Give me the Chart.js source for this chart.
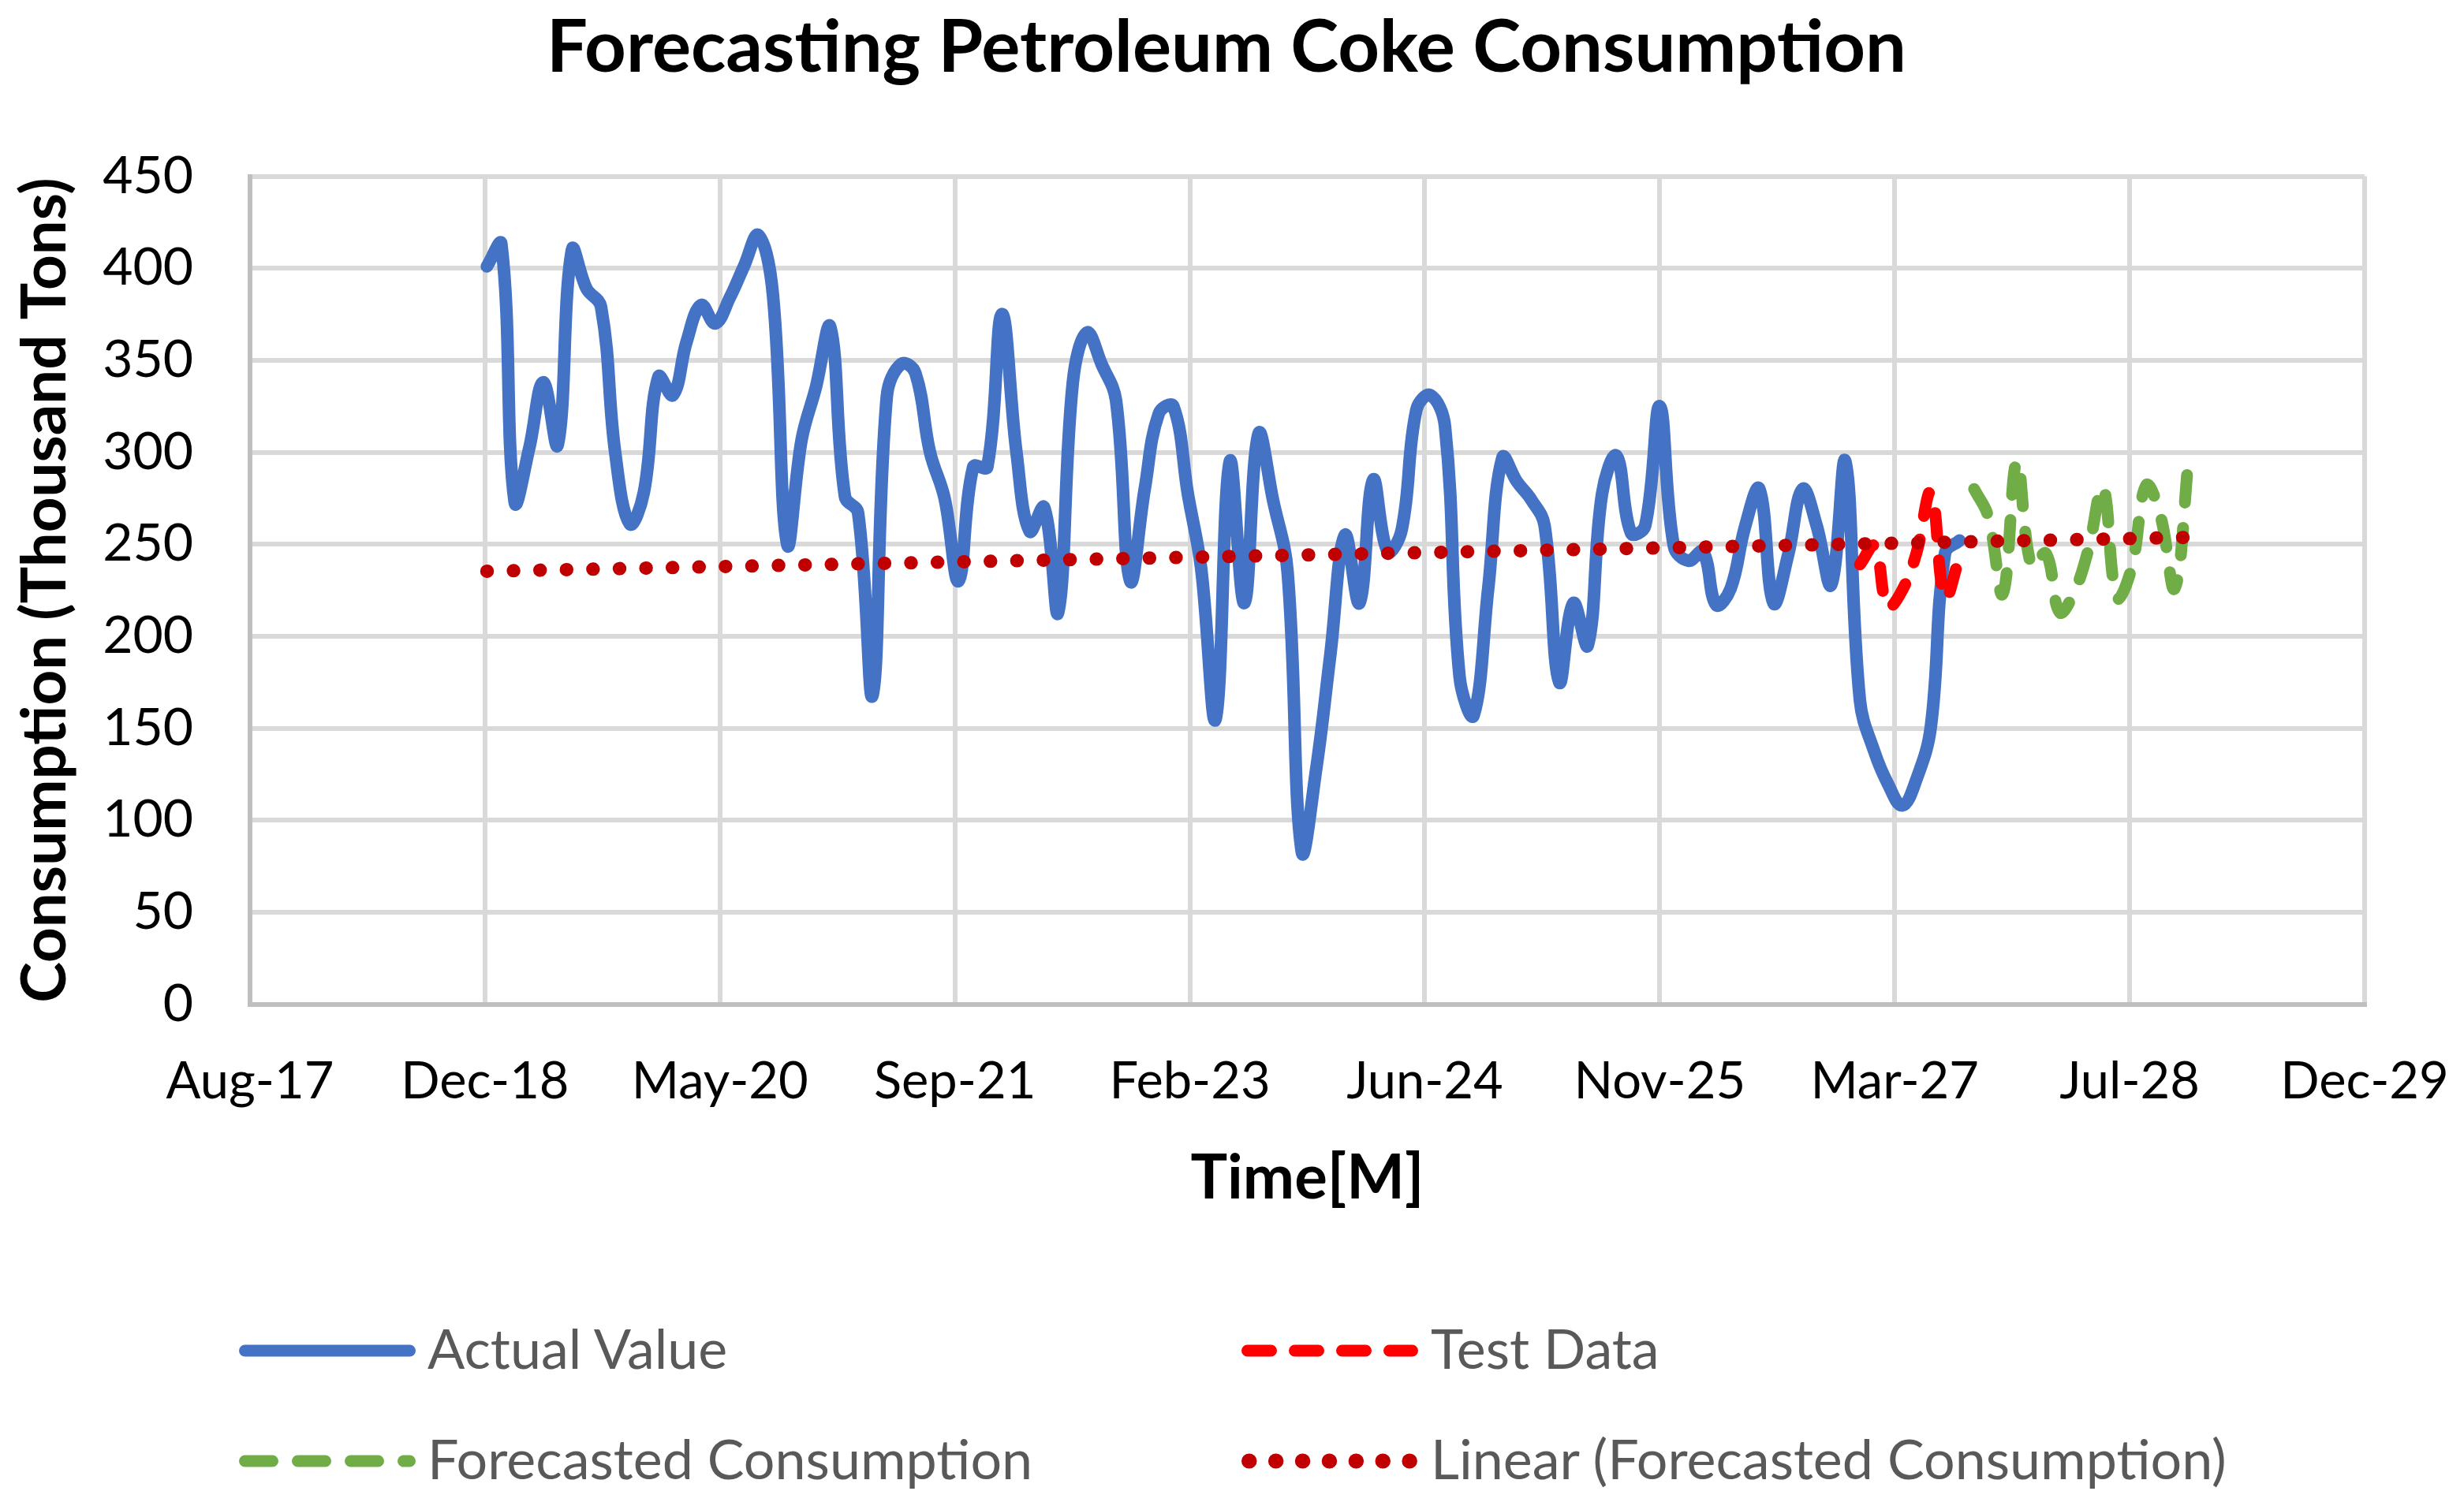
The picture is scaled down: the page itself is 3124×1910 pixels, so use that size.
<!DOCTYPE html>
<html>
<head>
<meta charset="utf-8">
<script src="https://cdn.jsdelivr.net/npm/chart.js@4.4.1/dist/chart.umd.min.js"></script>
<style>
html,body{margin:0;padding:0;background:#ffffff;overflow:hidden;}
#wrap{position:absolute;left:0;top:0;width:3124px;height:1600px;}
#legend{position:absolute;left:0;top:0;width:3124px;height:1910px;font-family:Lato,sans-serif;font-size:70px;color:#595959;}
.lg-svg{position:absolute;}
.lg-text{position:absolute;white-space:nowrap;line-height:1.2;}
</style>
</head>
<body>
<div id="wrap"><canvas id="chart"></canvas></div>
<div id="legend"></div>
<script>
// ---- data ----
const xTickLabels = ['Aug-17','Dec-18','May-20','Sep-21','Feb-23','Jun-24','Nov-25','Mar-27','Jul-28','Dec-29'];

const actualStart = [2019, 1];   // Jan 2019, monthly
const actualValues = [401,413,273,302,338,304,410,389,379,300,
                      261,278,341,331,360,380,370,384,401,418,
                      385,250,307,335,368,276,267,168,330,348,
                      343,300,275,230,292,292,375,300,257,270,
                      213,338,365,348,328,230,280,321,325,277,
                      237,155,295,218,310,274,235,83,128,190,
                      255,218,285,246,258,323,331,314,178,157,
                      226,297,284,274,260,175,218,195,277,298,
                      256,260,325,249,241,246,217,226,259,280,
                      218,244,280,260,228,295,165,137,120,108,
                      122,151,245,252];

const testStart = [2027, 1];     // Jan 2027
const testValues = [239,249,216,225,245,278,221,243];

const forecastStart = [2027, 9]; // Sep 2027
const forecastValues = [280,265,223,295,238,245,213,224,247,281,221,237,282,266,226,298];

const trendMonths = [[2019, 1], [2028, 12]];
const trendValues = [235.3, 253.7];

// ---- helpers ----
const AXIS_ORIGIN = Date.UTC(2017, 7, 15);
function dayOf(y, m) { return (Date.UTC(y, m - 1, 1) - AXIS_ORIGIN) / 86400000; }
function monthly(start, values) {
  return values.map((v, i) => {
    const t = start[0] * 12 + (start[1] - 1) + i;
    return { x: dayOf(Math.floor(t / 12), (t % 12) + 1), y: v };
  });
}

const series = [
  { label: 'Linear (Forecasted Consumption)', data: trendMonths.map((m, i) => ({ x: dayOf(m[0], m[1]), y: trendValues[i] })),
    color: '#C00000', width: 17, dash: [0.5, 33.1], tension: 0, order: 1 },
  { label: 'Test Data', data: monthly(testStart, testValues),
    color: '#FF0000', width: 15, dash: [30, 30], tension: 0.4, order: 2 },
  { label: 'Forecasted Consumption', data: monthly(forecastStart, forecastValues),
    color: '#70AD47', width: 15, dash: [35, 32], tension: 0.4, order: 3 },
  { label: 'Actual Value', data: monthly(actualStart, actualValues),
    color: '#4472C4', width: 16, dash: [], tension: 0.4, order: 4 }
];

function build() {
  const ctx = document.getElementById('chart').getContext('2d');
  new Chart(ctx, {
    type: 'line',
    data: {
      datasets: series.map(s => ({
        label: s.label, data: s.data, borderColor: s.color, backgroundColor: s.color,
        borderWidth: s.width, borderDash: s.dash, borderCapStyle: 'round', borderJoinStyle: 'round',
        tension: s.tension, pointRadius: 0, pointHoverRadius: 0, fill: false, order: s.order
      }))
    },
    options: {
      responsive: true, maintainAspectRatio: false, animation: false, devicePixelRatio: 1,
      layout: { padding: { left: 0, right: 14, top: 0, bottom: 0 } },
      plugins: {
        legend: { display: false },
        tooltip: { enabled: false },
        title: {
          display: true, text: 'Forecasting Petroleum Coke Consumption', color: '#000000',
          font: { family: 'Lato', size: 92, weight: 'bold', lineHeight: 1.2 },
          padding: { top: 6, bottom: 107.1 }
        }
      },
      scales: {
        x: {
          type: 'linear', min: 0, max: 4500,
          ticks: { stepSize: 500, autoSkip: false, maxRotation: 0, padding: 60, color: '#000000',
                   font: { family: 'Lato', size: 65 }, callback: (v, i) => xTickLabels[i] },
          grid: { color: '#D9D9D9', lineWidth: 6, drawTicks: false },
          border: { color: '#BFBFBF', width: 6 },
          title: { display: true, text: 'Time[M]', color: '#000000',
                   font: { family: 'Lato', size: 78, weight: 'bold', lineHeight: 1.2 },
                   padding: { top: 0, bottom: 58 } },
          afterFit: s => { s.height = 326.5; s.paddingLeft = 0; s.paddingRight = 126; }
        },
        y: {
          min: 0, max: 450,
          ticks: { stepSize: 50, padding: 72, color: '#000000', font: { family: 'Lato', size: 66 } },
          grid: { color: '#D9D9D9', lineWidth: 6, drawTicks: false },
          border: { color: '#BFBFBF', width: 6 },
          title: { display: true, text: 'Consumption (Thousand Tons)', color: '#000000',
                   font: { family: 'Lato', size: 78, weight: 'bold', lineHeight: 1.2 },
                   padding: { top: 11, bottom: 0 } },
          afterFit: s => { s.width = 317; }
        }
      }
    }
  });

  // legend (HTML text + svg samples)
  const legend = document.getElementById('legend');
  const FS = 70;
  const items = [
    { s: series[3], sx: 303, cy: 1713, tx: 542, base: 1736 },
    { s: series[1], sx: 1574, cy: 1713, tx: 1814, base: 1736 },
    { s: series[2], sx: 303, cy: 1853, tx: 542, base: 1876 },
    { s: series[0], sx: 1574, cy: 1853, tx: 1814, base: 1876 }
  ];
  const NS = 'http://www.w3.org/2000/svg';
  items.forEach(it => {
    const svg = document.createElementNS(NS, 'svg');
    svg.setAttribute('class', 'lg-svg');
    svg.setAttribute('width', 226); svg.setAttribute('height', 30);
    svg.style.left = it.sx + 'px'; svg.style.top = (it.cy - 15) + 'px';
    const isTrend = it.s.label.startsWith('Linear');
    const w = isTrend ? 19 : 15;
    const line = document.createElementNS(NS, 'line');
    line.setAttribute('x1', w / 2); line.setAttribute('x2', 224 - w / 2);
    line.setAttribute('y1', 15); line.setAttribute('y2', 15);
    line.setAttribute('stroke', it.s.color);
    line.setAttribute('stroke-width', w);
    line.setAttribute('stroke-linecap', 'round');
    if (it.s.dash.length) line.setAttribute('stroke-dasharray', isTrend ? '0.5 33.4' : it.s.dash.join(' '));
    svg.appendChild(line);
    legend.appendChild(svg);
    const span = document.createElement('span');
    span.className = 'lg-text';
    span.textContent = it.s.label;
    span.style.left = it.tx + 'px';
    span.style.top = (it.base - 0.987 * FS) + 'px';
    legend.appendChild(span);
  });
}

if (document.fonts && document.fonts.load) {
  Promise.all([
    document.fonts.load('bold 92px Lato'),
    document.fonts.load('65px Lato')
  ]).then(build, build);
} else { build(); }
</script>
</body>
</html>
